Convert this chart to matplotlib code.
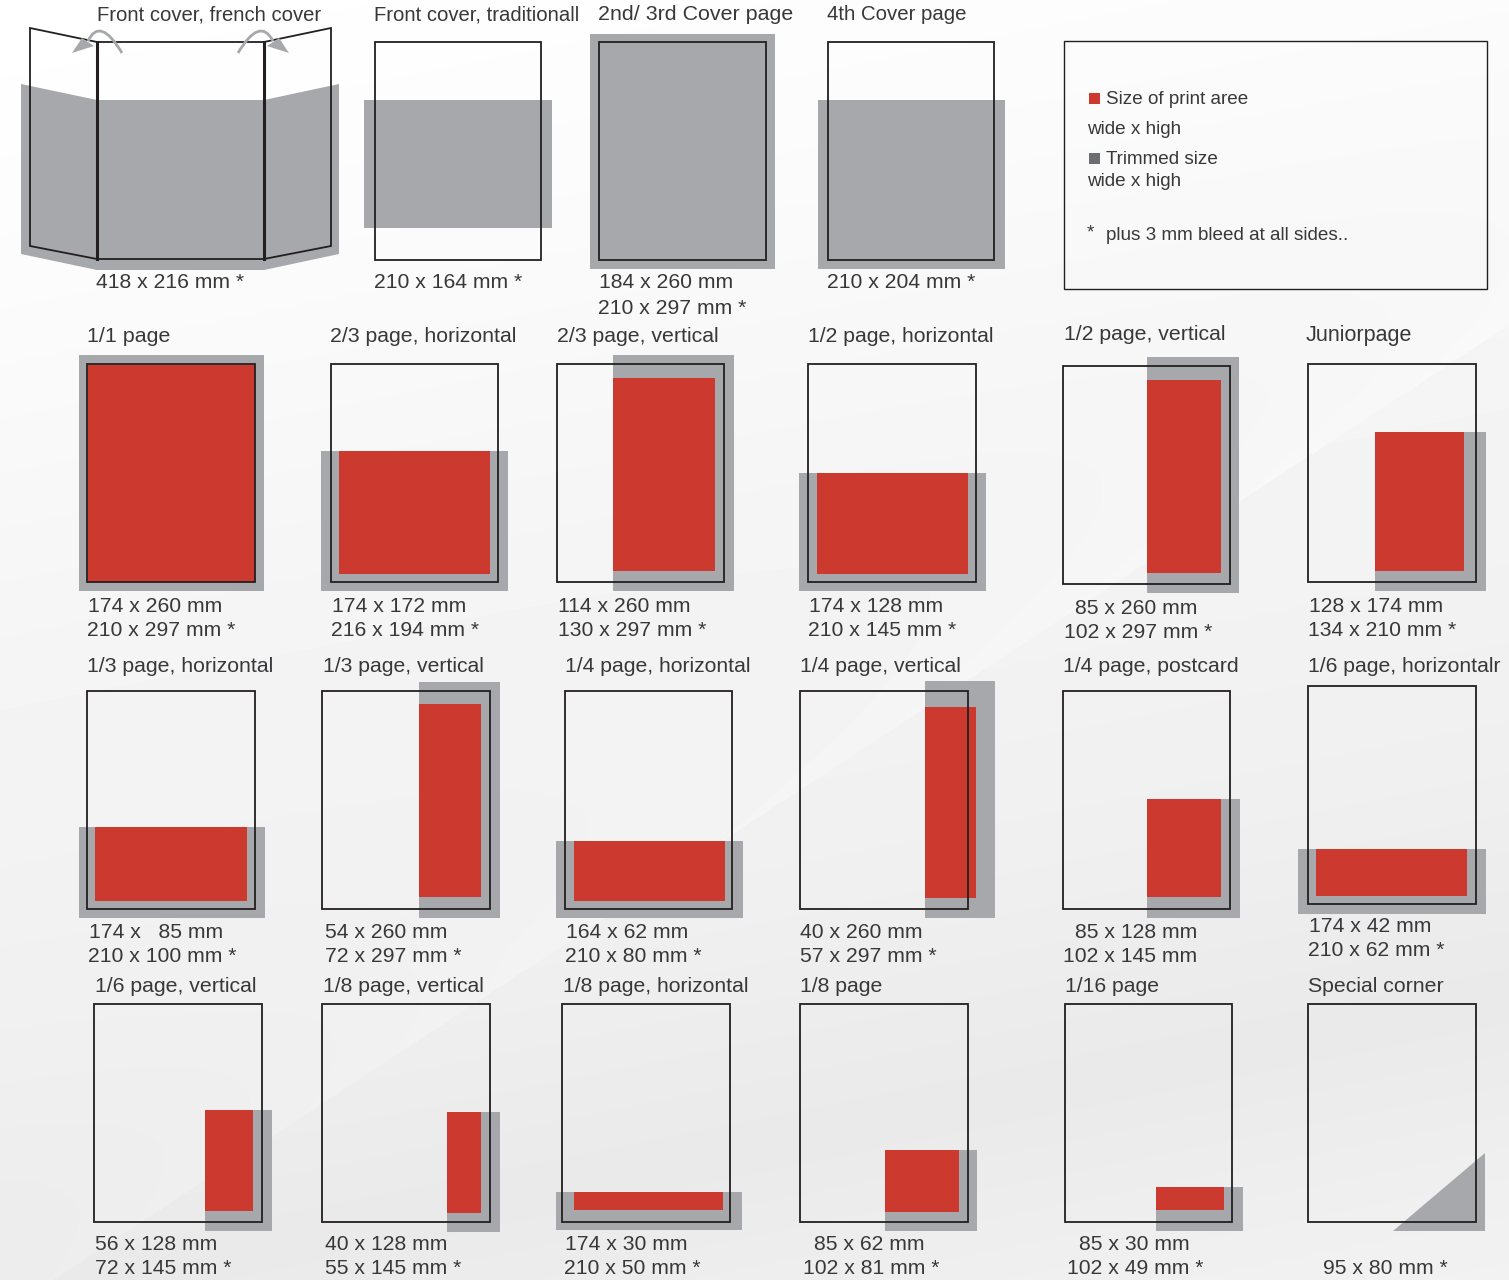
import numpy as np
import matplotlib
matplotlib.use("Agg")
import matplotlib.pyplot as plt
from matplotlib.patches import Polygon, Rectangle, PathPatch
from matplotlib.path import Path

plt.rcParams["font.family"] = ["Liberation Sans", "DejaVu Sans"]

GREY = "#a7a8ab"
RED = "#cc3a2f"
INK = "#38383a"
LINE = "#231f20"

# adverts: title, the size lines under the page
titles = [
    "Front cover, traditionall", "2nd/ 3rd Cover page", "4th Cover page",
    "1/1 page", "2/3 page, horizontal", "2/3 page, vertical", "1/2 page, horizontal", "1/2 page, vertical", "Juniorpage",
    "1/3 page, horizontal", "1/3 page, vertical", "1/4 page, horizontal", "1/4 page, vertical", "1/4 page, postcard", "1/6 page, horizontalr",
    "1/6 page, vertical", "1/8 page, vertical", "1/8 page, horizontal", "1/8 page", "1/16 page", "Special corner",
]
title_xy = [
    (374, 14), (598, 14), (827, 14),
    (87, 336), (330, 336), (557, 336), (808, 336), (1064, 334), (1306, 334),
    (87, 666), (323, 666), (565, 666), (800, 666), (1063, 666), (1308, 666),
    (95, 985), (323, 985), (563, 985), (800, 985), (1065, 985), (1308, 985),
]
title_pt = [
    14.6, 15.4, 14.7,
    15.4, 15.3, 15.3, 15.2, 15.3, 15.5,
    15.3, 15.2, 15.2, 15.2, 15.3, 15.2,
    15.3, 15.2, 15.2, 15.3, 15.2, 15.3,
]
sizes = [
    ["210 x 164 mm *"], ["184 x 260 mm", "210 x 297 mm *"], ["210 x 204 mm *"],
    ["174 x 260 mm", "210 x 297 mm *"], ["174 x 172 mm", "216 x 194 mm *"], ["114 x 260 mm", "130 x 297 mm *"],
    ["174 x 128 mm", "210 x 145 mm *"], ["85 x 260 mm", "102 x 297 mm *"], ["128 x 174 mm", "134 x 210 mm *"],
    ["174 x   85 mm", "210 x 100 mm *"], ["54 x 260 mm", "72 x 297 mm *"], ["164 x 62 mm", "210 x 80 mm *"],
    ["40 x 260 mm", "57 x 297 mm *"], ["85 x 128 mm", "102 x 145 mm"], ["174 x 42 mm", "210 x 62 mm *"],
    ["56 x 128 mm", "72 x 145 mm *"], ["40 x 128 mm", "55 x 145 mm *"], ["174 x 30 mm", "210 x 50 mm *"],
    ["85 x 62 mm", "102 x 81 mm *"], ["85 x 30 mm", "102 x 49 mm *"], ["95 x 80 mm *"],
]
size_xy = [
    [(374, 282)], [(599, 282), (598, 307)], [(827, 282)],
    [(88, 605), (87, 629)], [(332, 605), (331, 629)], [(558, 605), (558, 629)],
    [(809, 605), (808, 629)], [(1075, 607), (1064, 631)], [(1309, 605), (1308, 629)],
    [(89, 932), (88, 956)], [(325, 932), (325, 956)], [(566, 932), (565, 956)],
    [(800, 932), (800, 956)], [(1075, 932), (1063, 956)], [(1309, 925), (1308, 949)],
    [(95, 1244), (95, 1268)], [(325, 1244), (325, 1268)], [(565, 1244), (564, 1268)],
    [(814, 1244), (803, 1268)], [(1079, 1244), (1067, 1268)], [(1323, 1268)],
]

# rectangles as left, top, right, bottom
pages = [
    (375, 42, 541, 260), (599, 42, 766, 260), (828, 42, 994, 260),
    (87, 364, 255, 582), (331, 364, 498, 582), (557, 364, 724, 582),
    (808, 364, 976, 582), (1063, 366, 1230, 584), (1308, 364, 1476, 582),
    (87, 691, 255, 909), (322, 691, 490, 909), (565, 691, 732, 909),
    (800, 691, 968, 909), (1063, 691, 1230, 909), (1308, 686, 1476, 904),
    (94, 1004, 262, 1222), (322, 1004, 490, 1222), (562, 1004, 730, 1222),
    (800, 1004, 968, 1222), (1065, 1004, 1232, 1222), (1308, 1004, 1476, 1222),
]
trimmed = [
    (364, 100, 552, 228), (590, 34, 775, 269), (818, 100, 1005, 269),
    (79, 355, 264, 591), (321, 451, 508, 591), (613, 355, 734, 591),
    (799, 473, 986, 591), (1147, 357, 1239, 593), (1375, 432, 1486, 591),
    (79, 827, 265, 918), (419, 682, 500, 918), (556, 841, 743, 918),
    (925, 681, 995, 918), (1147, 799, 1240, 918), (1298, 849, 1486, 914),
    (205, 1110, 272, 1231), (447, 1112, 500, 1232), (556, 1192, 742, 1230),
    (885, 1150, 977, 1231), (1156, 1187, 1243, 1231), None,
]
print_area = [
    None, None, None,
    (88, 365, 255, 582), (339, 451, 490, 574), (613, 378, 715, 571),
    (817, 473, 968, 574), (1147, 380, 1221, 573), (1375, 432, 1464, 571),
    (95, 827, 247, 901), (419, 704, 481, 897), (574, 841, 725, 901),
    (925, 707, 976, 898), (1147, 799, 1221, 897), (1316, 849, 1467, 896),
    (205, 1110, 253, 1211), (447, 1112, 481, 1213), (574, 1192, 723, 1210),
    (885, 1150, 959, 1212), (1156, 1187, 1224, 1210), None,
]
corner = [(1393, 1231), (1485, 1231), (1485, 1153)]

# french cover pieces
french_grey = [(21, 84), (97, 100), (264, 100), (339, 84), (339, 254), (264, 270), (97, 270), (21, 254)]
french_lines = [
    [(97, 42), (264, 42)],
    [(97, 259), (264, 259)],
    [(97, 42), (30, 28), (30, 246), (97, 259)],
    [(264, 42), (331, 28), (331, 246), (264, 259)],
]
french_folds = [97, 264]
arrow_curves = [[(122, 53), (100, 16), (88, 41)], [(238, 53), (260, 16), (273, 41)]]
arrow_heads = [[(72, 53), (82, 38), (94, 46)], [(289, 53), (279, 38), (267, 46)]]

# background greys along the slanted ramp
ramp_t = [0, 300, 650, 1050, 1300, 1500, 1800]
ramp_v = [1.0, 0.985, 0.96, 0.94, 0.915, 0.94, 0.965]

fig = plt.figure(figsize=(15.09, 12.8), dpi=100)
ax = fig.add_axes([0, 0, 1, 1])
ax.set_xlim(0, 1509)
ax.set_ylim(1280, 0)
ax.axis("off")

xx, yy = np.meshgrid(np.arange(1509), np.arange(1280))
grad = np.interp(yy + 0.2 * xx, ramp_t, ramp_v)
# light band above the long diagonal edge
above = (1314 - 0.656 * xx) - yy
grad = grad + np.where(above > 0, 0.014 * np.exp(-above / 80.0), 0.0)
ax.imshow(np.clip(grad, 0, 1), cmap="gray", vmin=0, vmax=1, extent=(0, 1509, 1280, 0), aspect="auto", zorder=0)

# french cover
ax.add_patch(Polygon(french_grey, fc=GREY, ec="none", zorder=1))
for pts in french_lines:
    xs, ys = zip(*pts)
    ax.plot(xs, ys, color=LINE, lw=1.3, zorder=3, solid_joinstyle="miter")
for x in french_folds:
    ax.plot([x, x], [42, 259], color=LINE, lw=2.2, zorder=3)
for curve, head in zip(arrow_curves, arrow_heads):
    ax.add_patch(PathPatch(Path(curve, [Path.MOVETO, Path.CURVE3, Path.CURVE3]), fc="none", ec=GREY, lw=2.0, zorder=4))
    ax.add_patch(Polygon(head, fc=GREY, ec="none", zorder=4))

# pages
for box, trim, area in zip(pages, trimmed, print_area):
    if trim is not None:
        ax.add_patch(Rectangle((trim[0], trim[1]), trim[2] - trim[0], trim[3] - trim[1], fc=GREY, ec="none", zorder=1))
    if area is not None:
        ax.add_patch(Rectangle((area[0], area[1]), area[2] - area[0], area[3] - area[1], fc=RED, ec="none", zorder=2))
    ax.add_patch(Rectangle((box[0], box[1]), box[2] - box[0], box[3] - box[1], fc="none", ec=LINE, lw=1.3, zorder=3))
ax.add_patch(Polygon(corner, fc=GREY, ec="none", zorder=1))


def label(x, y, s, pt=15.2):
    ax.text(x, y + 1, s, fontsize=pt, color=INK, va="center", ha="left", zorder=5)


label(97, 14, "Front cover, french cover", 14.6)
label(96, 282, "418 x 216 mm *")
for s, (x, y), pt in zip(titles, title_xy, title_pt):
    label(x, y, s, pt)
for lines, spots in zip(sizes, size_xy):
    for s, (x, y) in zip(lines, spots):
        label(x, y, s)

# key box
ax.add_patch(Rectangle((1064, 41), 423, 248, fc="none", ec=LINE, lw=1.0, zorder=3))
ax.add_patch(Rectangle((1089, 93), 11, 11, fc=RED, ec="none", zorder=3))
ax.add_patch(Rectangle((1089, 153), 11, 11, fc="#6d6e71", ec="none", zorder=3))
key_text = ["Size of print aree", "wide x high", "Trimmed size", "wide x high", "plus 3 mm bleed at all sides..", "*"]
key_xy = [(1106, 99), (1087, 129), (1106, 159), (1087, 181), (1106, 234), (1087, 232)]
for s, (x, y) in zip(key_text, key_xy):
    ax.text(x, y + 1, s, fontsize=13.6, color=INK, va="center", ha="left", zorder=5)

fig.savefig("out.png", dpi=100)
